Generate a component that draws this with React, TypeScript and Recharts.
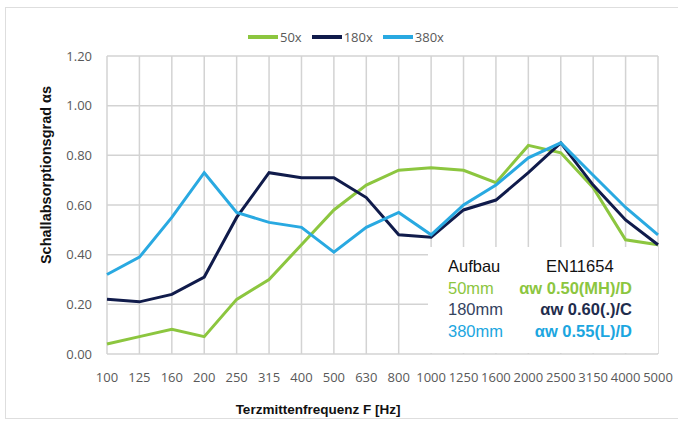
import React from 'react';
import { LineChart, Line, XAxis, YAxis, CartesianGrid } from 'recharts';

const frequencies = ['100', '125', '160', '200', '250', '315', '400', '500', '630', '800', '1000', '1250', '1600', '2000', '2500', '3150', '4000', '5000'];
const series50 = [0.04, 0.07, 0.10, 0.07, 0.22, 0.30, 0.44, 0.58, 0.68, 0.74, 0.75, 0.74, 0.69, 0.84, 0.81, 0.67, 0.46, 0.44];
const series180 = [0.22, 0.21, 0.24, 0.31, 0.55, 0.73, 0.71, 0.71, 0.63, 0.48, 0.47, 0.58, 0.62, 0.73, 0.85, 0.68, 0.54, 0.44];
const series380 = [0.32, 0.39, 0.55, 0.73, 0.57, 0.53, 0.51, 0.41, 0.51, 0.57, 0.48, 0.60, 0.68, 0.79, 0.85, 0.72, 0.59, 0.48];
const seriesNames = ['50x', '180x', '380x'];
const yTicks = [0, 0.2, 0.4, 0.6, 0.8, 1.0, 1.2];
const insetHeader = ['Aufbau', 'EN11654'];
const thicknessLabels = ['50mm', '180mm', '380mm'];
const ratingLabels = ['\u03b1w 0.50(MH)/D', '\u03b1w 0.60(.)/C', '\u03b1w 0.55(L)/D'];
const yTitle = 'Schallabsorptionsgrad \u03b1s';
const xTitle = 'Terzmittenfrequenz F [Hz]';

const lineColors = ['#8cc63f', '#101b4b', '#29a9e1'];
const insetLabelColors = ['#8cc63f', '#34435f', '#1ca6e0'];
const insetRatingColors = ['#8cc63f', '#1f2d4d', '#1ca6e0'];
const seriesKeys = ['s0', 's1', 's2'];

const data = frequencies.map((f, i) => ({ f, s0: series50[i], s1: series180[i], s2: series380[i] }));

const tickStyle = { fill: '#595959', fontSize: 13, fontFamily: 'Open Sans' };

export default function App() {
  return (
    <div style={{ position: 'absolute', left: 0, top: 0, width: 678, height: 423, background: '#fff', overflow: 'hidden' }}>
      <div style={{ position: 'absolute', left: 5, top: 7, width: 700, height: 412, border: '1px solid #dedede', boxSizing: 'border-box' }} />
      <LineChart width={678} height={423} data={data} margin={{ top: 56, right: 20, bottom: 0, left: 47 }}>
        <CartesianGrid stroke="#d3d3d3" strokeWidth={1.5} />
        <XAxis dataKey="f" interval={0} axisLine={false} tickLine={false} height={69} tickSize={6} tickMargin={13} tick={tickStyle} />
        <YAxis domain={[0, 1.2]} ticks={yTicks} width={60} axisLine={false} tickLine={false} tickSize={6} tickMargin={9} tick={tickStyle} tickFormatter={(v: number) => v.toFixed(2)} />
        {seriesKeys.map((k, i) => (
          <Line key={k} dataKey={k} name={seriesNames[i]} type="linear" stroke={lineColors[i]} strokeWidth={3} dot={false} isAnimationActive={false} />
        ))}
      </LineChart>

      <div style={{ position: 'absolute', left: 248, top: 28, display: 'flex', alignItems: 'center', fontFamily: 'Open Sans', fontSize: 13, color: '#595959' }}>
        {seriesNames.map((n, i) => (
          <div key={n} style={{ display: 'flex', alignItems: 'center', marginRight: 10 }}>
            <span style={{ display: 'inline-block', width: 30, height: 4, background: lineColors[i], marginRight: 2 }} />
            <span>{n}</span>
          </div>
        ))}
      </div>

      <div style={{ position: 'absolute', left: 46, top: 175, transform: 'translate(-50%, -50%) rotate(-90deg)', whiteSpace: 'nowrap', fontFamily: 'Liberation Sans', fontWeight: 'bold', fontSize: 14.5, color: '#111' }}>
        {yTitle}
      </div>
      <div style={{ position: 'absolute', left: 318, top: 409, transform: 'translate(-50%, -50%)', whiteSpace: 'nowrap', fontFamily: 'Liberation Sans', fontWeight: 'bold', fontSize: 13.5, color: '#111' }}>
        {xTitle}
      </div>

      <div style={{ position: 'absolute', left: 428, top: 247, width: 230, height: 106, background: '#fff', fontFamily: 'Liberation Sans', fontSize: 16.5, lineHeight: '21.5px' }}>
        <div style={{ position: 'absolute', left: 20, top: 9, color: '#111', whiteSpace: 'nowrap' }}>{insetHeader[0]}</div>
        <div style={{ position: 'absolute', left: 118, top: 9, color: '#111', whiteSpace: 'nowrap' }}>{insetHeader[1]}</div>
        {thicknessLabels.map((t, i) => (
          <React.Fragment key={t}>
            <div style={{ position: 'absolute', left: 20, top: 9 + 21.5 * (i + 1), color: insetLabelColors[i], whiteSpace: 'nowrap' }}>{t}</div>
            <div style={{ position: 'absolute', right: 26, top: 9 + 21.5 * (i + 1), color: insetRatingColors[i], fontWeight: 'bold', whiteSpace: 'nowrap' }}>{ratingLabels[i]}</div>
          </React.Fragment>
        ))}
      </div>
    </div>
  );
}
